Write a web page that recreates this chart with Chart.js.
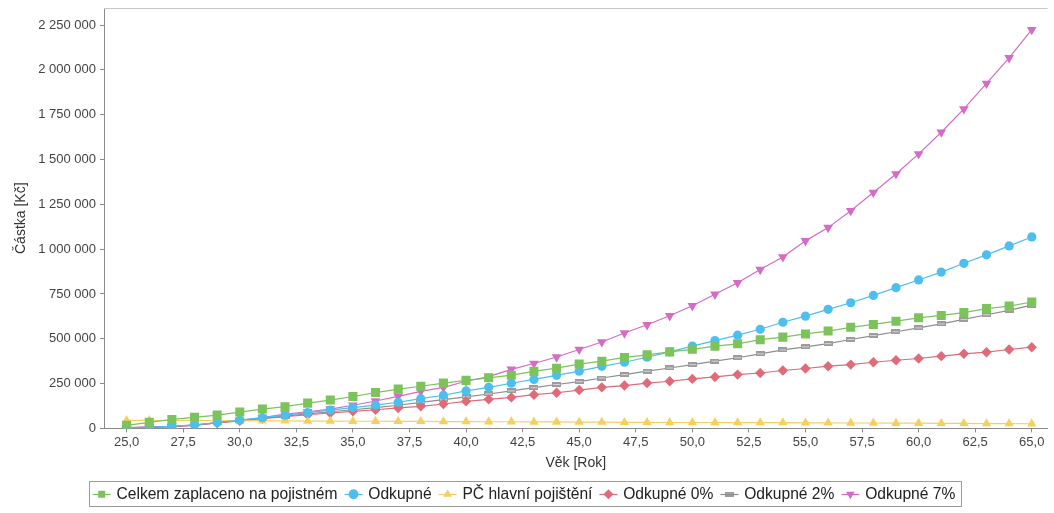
<!DOCTYPE html>
<html>
<head>
<meta charset="utf-8">
<script src="https://cdn.jsdelivr.net/npm/chart.js@4"></script>
<style>
  html, body { margin: 0; padding: 0; background: #ffffff; }
  #wrap { width: 1054px; height: 513px; }
</style>
</head>
<body>
<div id="wrap"><canvas id="chart" width="1054" height="513"></canvas></div>
<script>
// Věk pojištěného (roky)
const ages = [25, 26, 27, 28, 29, 30, 31, 32, 33, 34, 35, 36, 37, 38, 39, 40, 41, 42, 43, 44, 45,
              46, 47, 48, 49, 50, 51, 52, 53, 54, 55, 56, 57, 58, 59, 60, 61, 62, 63, 64, 65];

// Celkem zaplaceno na pojistném
const paidTotal = [17000, 34000, 50000, 62000, 74000, 91000, 108000, 121000, 141000, 158000, 178000,
                   200000, 219000, 235000, 253000, 268000, 282000, 297000, 318000, 336000, 359000,
                   375000, 396000, 410000, 427000, 441000, 459000, 472000, 495000, 509000, 527000,
                   543000, 564000, 580000, 598000, 617000, 630000, 646000, 668000, 682000, 705000];

// Odkupné
const surrender = [3000, 7000, 12000, 20000, 33000, 46000, 60000, 74000, 88000, 102000, 116000,
                   130000, 146000, 166000, 185000, 209000, 229000, 252000, 273000, 296000, 319000,
                   346000, 369000, 397000, 427000, 459000, 490000, 520000, 553000, 592000, 626000,
                   664000, 701000, 742000, 785000, 828000, 872000, 921000, 968000, 1018000, 1068000];

// PČ hlavní pojištění
const sumInsured = [45000, 45000, 44000, 44000, 43000, 43000, 42000, 42000, 41000, 41000, 40000,
                    40000, 39000, 39000, 38000, 38000, 37000, 37000, 36000, 36000, 35000,
                    35000, 34000, 34000, 33000, 33000, 33000, 32000, 32000, 32000, 31000,
                    31000, 30000, 30000, 29000, 29000, 28000, 28000, 27000, 27000, 26000];

// Odkupné 0%
const surrender0 = [3000, 6000, 10000, 18000, 30000, 42000, 54000, 65000, 76000, 86000, 95000,
                    104000, 114000, 123000, 136000, 151000, 162000, 173000, 188000, 199000, 214000,
                    229000, 239000, 253000, 263000, 276000, 287000, 300000, 309000, 323000, 334000,
                    347000, 356000, 369000, 380000, 390000, 403000, 416000, 425000, 440000, 453000];

// Odkupné 2%
const surrender2 = [3000, 6000, 11000, 19000, 31000, 44000, 57000, 69000, 81000, 93000, 104000,
                    116000, 129000, 145000, 160000, 176000, 192000, 209000, 227000, 245000, 261000,
                    281000, 300000, 319000, 337000, 356000, 375000, 394000, 416000, 438000, 455000,
                    473000, 496000, 518000, 539000, 561000, 583000, 608000, 634000, 658000, 688000];

// Odkupné 7%
const surrender7 = [4000, 8000, 10000, 17000, 32000, 45000, 60000, 80000, 93000, 108000, 129000,
                    153000, 179000, 207000, 229000, 263000, 289000, 329000, 362000, 398000, 440000,
                    482000, 532000, 578000, 628000, 684000, 748000, 812000, 886000, 956000, 1046000,
                    1120000, 1214000, 1316000, 1419000, 1531000, 1652000, 1782000, 1924000, 2067000, 2224000];

// Popisky os
const xTicks = [25, 27.5, 30, 32.5, 35, 37.5, 40, 42.5, 45, 47.5, 50, 52.5, 55, 57.5, 60, 62.5, 65];
const yTicks = [0, 250000, 500000, 750000, 1000000, 1250000, 1500000, 1750000, 2000000, 2250000];

const FONT = "'Liberation Sans', Arial, sans-serif";

// Malá šedá značka ve tvaru obdélníku pro řadu "Odkupné 2%"
function grayMarker() {
  const c = document.createElement('canvas');
  c.width = 9; c.height = 5;
  const g = c.getContext('2d');
  g.fillStyle = '#9c9c9c';
  g.fillRect(0, 0, 9, 5);
  g.fillStyle = '#d4d4d4';
  g.fillRect(1, 2, 7, 1);
  return c;
}

function pts(values) {
  return ages.map((a, i) => ({ x: a, y: values[i] }));
}

function series(label, values, color, style, radius, extra) {
  return Object.assign({
    label: label,
    data: pts(values),
    borderColor: color,
    backgroundColor: color,
    borderWidth: 1.2,
    pointStyle: style,
    pointRadius: radius,
    pointBorderWidth: 0,
    pointBackgroundColor: color,
    pointBorderColor: color,
    tension: 0
  }, extra || {});
}

const fmtThousands = v => String(Math.round(v)).replace(/\B(?=(\d{3})+(?!\d))/g, ' ');

// Rámeček grafu nahoře, čáry v legendě a rámeček legendy
const decorations = {
  id: 'decorations',
  afterDraw(chart) {
    const ctx = chart.ctx;
    const a = chart.chartArea;
    ctx.save();
    ctx.strokeStyle = '#c8c8c8';
    ctx.lineWidth = 1;
    ctx.beginPath();
    ctx.moveTo(a.left, a.top + 0.5);
    ctx.lineTo(a.right, a.top + 0.5);
    ctx.stroke();

    const lg = chart.legend;
    const boxes = lg.legendHitBoxes;
    if (boxes && boxes.length) {
      const fs = lg.options.labels.font.size;
      const bw = lg.options.labels.boxWidth;
      boxes.forEach((b, i) => {
        const ds = chart.data.datasets[i];
        const cy = Math.round(b.top + fs / 2) + 0.5;
        ctx.strokeStyle = ds.borderColor;
        ctx.lineWidth = 1.2;
        ctx.beginPath();
        ctx.moveTo(b.left - 2, cy);
        ctx.lineTo(b.left + bw + 2, cy);
        ctx.stroke();
      });
      const first = boxes[0], last = boxes[boxes.length - 1];
      const left = Math.round(first.left - 6) + 0.5;
      const right = Math.round(last.left + last.width + 6) + 0.5;
      const top = Math.round(first.top - 5) + 0.5;
      const bottom = Math.round(first.top + first.height + 4) + 0.5;
      ctx.strokeStyle = '#9a9a9a';
      ctx.lineWidth = 1;
      ctx.strokeRect(left, top, right - left, bottom - top);
    }
    ctx.restore();
  }
};

new Chart(document.getElementById('chart'), {
  type: 'line',
  data: {
    datasets: [
      series('Celkem zaplaceno na pojistném', paidTotal, '#7dc35b', 'rect', 6.4),
      series('Odkupné', surrender, '#4dbfee', 'circle', 4.6),
      series('PČ hlavní pojištění', sumInsured, '#f6d05a', 'triangle', 5.4),
      series('Odkupné 0%', surrender0, '#e06a78', 'rectRot', 5.2),
      series('Odkupné 2%', surrender2, '#8e8e8e', grayMarker(), 4),
      series('Odkupné 7%', surrender7, '#d66bc6', 'triangle', 5.6, { pointRotation: 180 })
    ]
  },
  options: {
    responsive: false,
    animation: false,
    devicePixelRatio: 1,
    layout: { padding: { left: 0, right: 4, top: 0, bottom: 1 } },
    plugins: {
      tooltip: { enabled: false },
      legend: {
        position: 'bottom',
        labels: {
          usePointStyle: true,
          boxWidth: 14,
          boxHeight: 7,
          padding: 9,
          color: '#222222',
          font: { family: FONT, size: 15.6 }
        }
      }
    },
    scales: {
      x: {
        type: 'linear',
        min: 24,
        max: 65.7,
        afterFit(s) { s.height = 49; },
        afterBuildTicks(s) { s.ticks = xTicks.map(v => ({ value: v })); },
        border: { color: '#8a8a8a', width: 1 },
        grid: { drawOnChartArea: false, drawTicks: true, tickLength: 4, color: '#8a8a8a' },
        ticks: {
          autoSkip: false,
          maxRotation: 0,
          padding: 2,
          color: '#444444',
          font: { family: FONT, size: 13 },
          callback: v => v.toFixed(1).replace('.', ',')
        },
        title: {
          display: true,
          text: 'Věk [Rok]',
          color: '#333333',
          font: { family: FONT, size: 14 },
          padding: { top: 2, bottom: 6 }
        }
      },
      y: {
        type: 'linear',
        min: 0,
        max: 2345000,
        afterFit(s) { s.width = 104; s.paddingTop = 8; },
        afterBuildTicks(s) { s.ticks = yTicks.map(v => ({ value: v })); },
        border: { color: '#8a8a8a', width: 1 },
        grid: { drawOnChartArea: false, drawTicks: true, tickLength: 4, color: '#8a8a8a' },
        ticks: {
          padding: 4,
          color: '#444444',
          font: { family: FONT, size: 13 },
          callback: v => fmtThousands(v)
        },
        title: {
          display: true,
          text: 'Částka [Kč]',
          color: '#333333',
          font: { family: FONT, size: 14 },
          padding: { top: 13, bottom: 0 }
        }
      }
    }
  },
  plugins: [decorations]
});
</script>
</body>
</html>
